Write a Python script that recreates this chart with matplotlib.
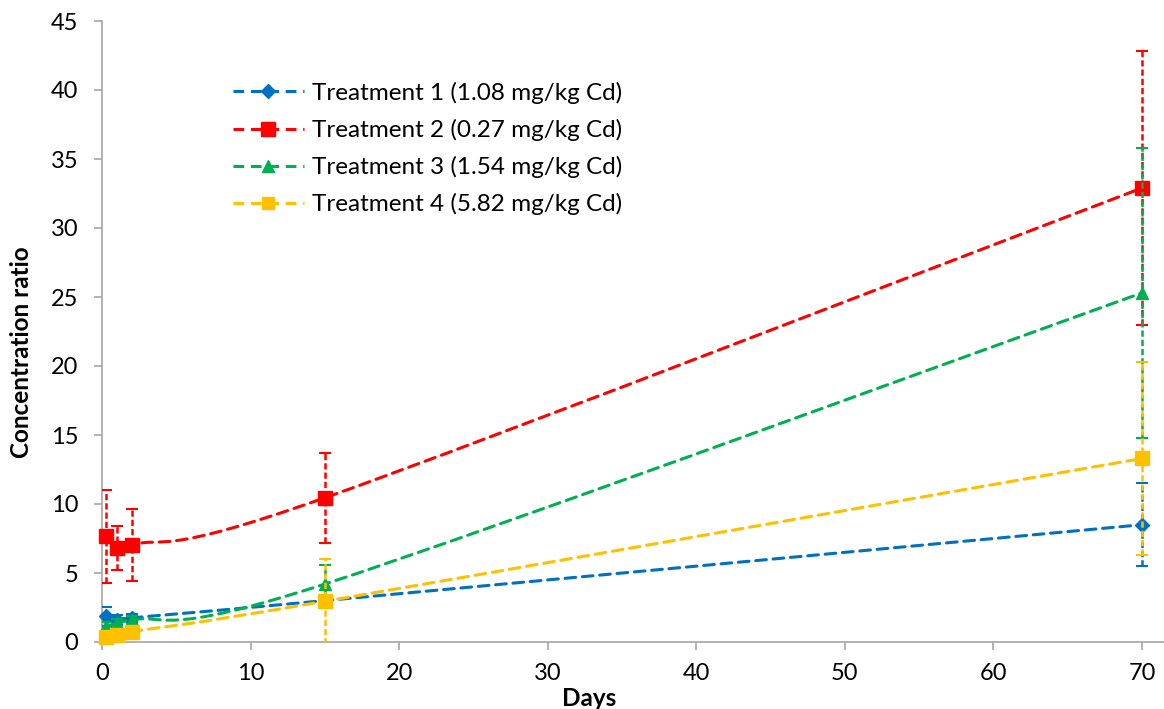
import numpy as np
import matplotlib
matplotlib.use("Agg")
import matplotlib.pyplot as plt
from matplotlib.path import Path
from matplotlib.patches import PathPatch
from matplotlib.lines import Line2D

plt.rcParams['font.family'] = ['Lato', 'DejaVu Sans']

# data
days = [0.25, 1, 2, 15, 70]

t1 = [1.85, 1.6, 1.75, 3.0, 8.5]
t1_err = [0.7, 0.35, 0.3, 0.35, 3.0]
t2 = [7.65, 6.8, 7.05, 10.45, 32.9]
t2_err = [3.4, 1.6, 2.6, 3.25, 9.9]
t3 = [1.15, 1.35, 1.6, 4.2, 25.3]
t3_err = [0.3, 0.3, 0.3, 1.4, 10.5]
t4 = [0.35, 0.5, 0.75, 2.95, 13.3]
t4_err = [0.2, 0.2, 0.2, 3.1, 7.0]

labels = ["Treatment 1 (1.08 mg/kg Cd)", "Treatment 2 (0.27 mg/kg Cd)",
          "Treatment 3 (1.54 mg/kg Cd)", "Treatment 4 (5.82 mg/kg Cd)"]
colors = ["#0070C0", "#FF0000", "#00B050", "#FFC000"]
markers = ["D", "s", "^", "s"]
msizes = [7.5, 10.5, 9, 9.5]


def smooth_path(x, y):
    # Excel-style smoothed line (Catmull-Rom as cubic Bezier)
    pts = np.column_stack([x, y]).astype(float)
    n = len(pts)
    verts = [pts[0]]
    codes = [Path.MOVETO]
    for i in range(n - 1):
        p0 = pts[i - 1] if i > 0 else pts[i]
        p1 = pts[i]
        p2 = pts[i + 1]
        p3 = pts[i + 2] if i + 2 < n else pts[i + 1]
        verts += [p1 + (p2 - p0) / 6, p2 - (p3 - p1) / 6, p2]
        codes += [Path.CURVE4] * 3
    return Path(verts, codes)


fig = plt.figure(figsize=(11.64, 7.09), dpi=100)
ax = fig.add_axes([102 / 1164, 67 / 709, 1062 / 1164, 621 / 709])

series = [(t1, t1_err), (t2, t2_err), (t3, t3_err), (t4, t4_err)]
handles = []
for k, ((vals, errs), c) in enumerate(zip(series, colors)):
    z = 3 + k
    eb = ax.errorbar(days, vals, yerr=errs, fmt='none', ecolor=c,
                     elinewidth=1.8, capsize=4, capthick=1.5, zorder=z)
    for lc in eb[2]:
        lc.set_linestyle((0, (2.5, 1.2)))
    ax.add_patch(PathPatch(smooth_path(days, vals), facecolor='none',
                           edgecolor=c, lw=2.2, linestyle=(0, (3.5, 2.2)),
                           capstyle='round', zorder=z))
    ax.plot(days, vals, linestyle='none', marker=markers[k], ms=msizes[k],
            color=c, mec=c, zorder=z + 0.5, clip_on=False)
    handles.append(Line2D([], [], color=c, lw=2.2, linestyle=(0, (3.5, 2.2)),
                          marker=markers[k], ms=msizes[k] * 0.9, mec=c))

ax.set_xlim(0, 71.48)
ax.set_ylim(0, 45)
ax.set_xticks(range(0, 71, 10))
ax.set_yticks(range(0, 46, 5))

for s in ['top', 'right']:
    ax.spines[s].set_visible(False)
for s in ['left', 'bottom']:
    ax.spines[s].set_color('#A6A6A6')
    ax.spines[s].set_linewidth(1.2)
ax.tick_params(axis='both', direction='out', length=6, width=1.2,
               color='#A6A6A6', labelsize=17)
ax.tick_params(axis='y', pad=11)
ax.tick_params(axis='x', pad=9)

ax.set_xlabel("Days", fontsize=17.5, fontweight='bold')
ax.xaxis.set_label_coords(0.459, -0.0725)
ax.set_ylabel("Concentration ratio", fontsize=17.5, fontweight='bold')
ax.yaxis.set_label_coords(-0.065, 0.467)

ax.legend(handles, labels, loc='upper left', bbox_to_anchor=(0.123, 0.902),
          frameon=False, fontsize=17.5, handlelength=2.95, handletextpad=0.3,
          labelspacing=0.62, borderpad=0, borderaxespad=0, numpoints=1)

fig.savefig("out.png", dpi=100)
